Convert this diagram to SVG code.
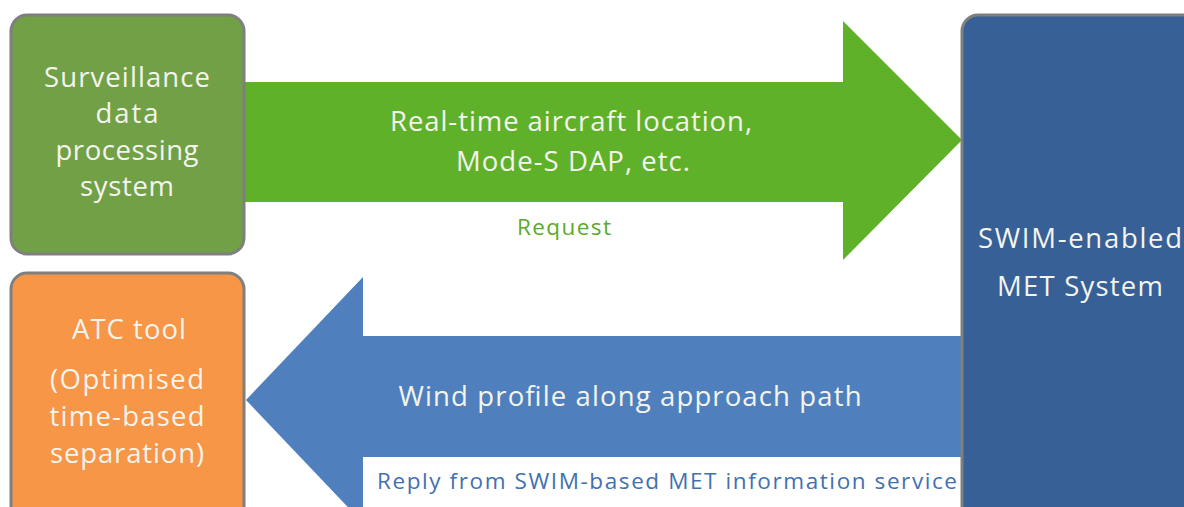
<svg xmlns="http://www.w3.org/2000/svg" width="1184" height="507" viewBox="0 0 1184 507">
<style>
.box{stroke:#7f7f7f;stroke-width:3}
.t{font-family:"Open Sans","Liberation Sans",sans-serif;fill:#f4f4ee;text-anchor:middle}
.big{font-size:27.5px}
.lbl{font-size:22.5px}
</style>
<rect width="1184" height="507" fill="#ffffff"/>
<g id="connectors">
<g id="request-arrow">
<polygon points="244,82 843,82 843,21 962,140 843,260 843,202 244,202" fill="#5fb12a"/>
<text class="t big" x="571" y="131" textLength="362">Real-time aircraft location,</text>
<text class="t big" x="573" y="171" textLength="234">Mode-S DAP, etc.</text>
<text class="t lbl" x="564" y="235" textLength="94" style="fill:#5aaa2c">Request</text>
</g>
<g id="reply-arrow">
<polygon points="965,336 363,336 363,277 246,400 363,523 363,457 965,457" fill="#4f80bd"/>
<text class="t big" x="630" y="406" textLength="463">Wind profile along approach path</text>
<text class="t lbl" x="667" y="489" textLength="580" style="fill:#4271b0">Reply from SWIM-based MET information service</text>
</g>
</g>
<g id="surveillance">
<rect class="box" x="11" y="15" width="233" height="239" rx="16" fill="#71a046"/>
<text class="t big" x="127" y="87" textLength="166">Surveillance</text>
<text class="t big" x="127" y="123" textLength="63">data</text>
<text class="t big" x="127" y="160" textLength="143">processing</text>
<text class="t big" x="127" y="196" textLength="94">system</text>
</g>
<g id="atc-tool">
<rect class="box" x="11" y="273" width="233" height="260" rx="16" fill="#f79646"/>
<text class="t big" x="129" y="339" textLength="114">ATC tool</text>
<text class="t big" x="127" y="389" textLength="154">(Optimised</text>
<text class="t big" x="127" y="426" textLength="155">time-based</text>
<text class="t big" x="127" y="463" textLength="154">separation)</text>
</g>
<g id="swim-met">
<rect class="box" x="962" y="15" width="260" height="520" rx="16" fill="#376096"/>
<text class="t big" x="1080" y="248" textLength="204">SWIM-enabled</text>
<text class="t big" x="1080" y="296" textLength="166">MET System</text>
</g>
</svg>
